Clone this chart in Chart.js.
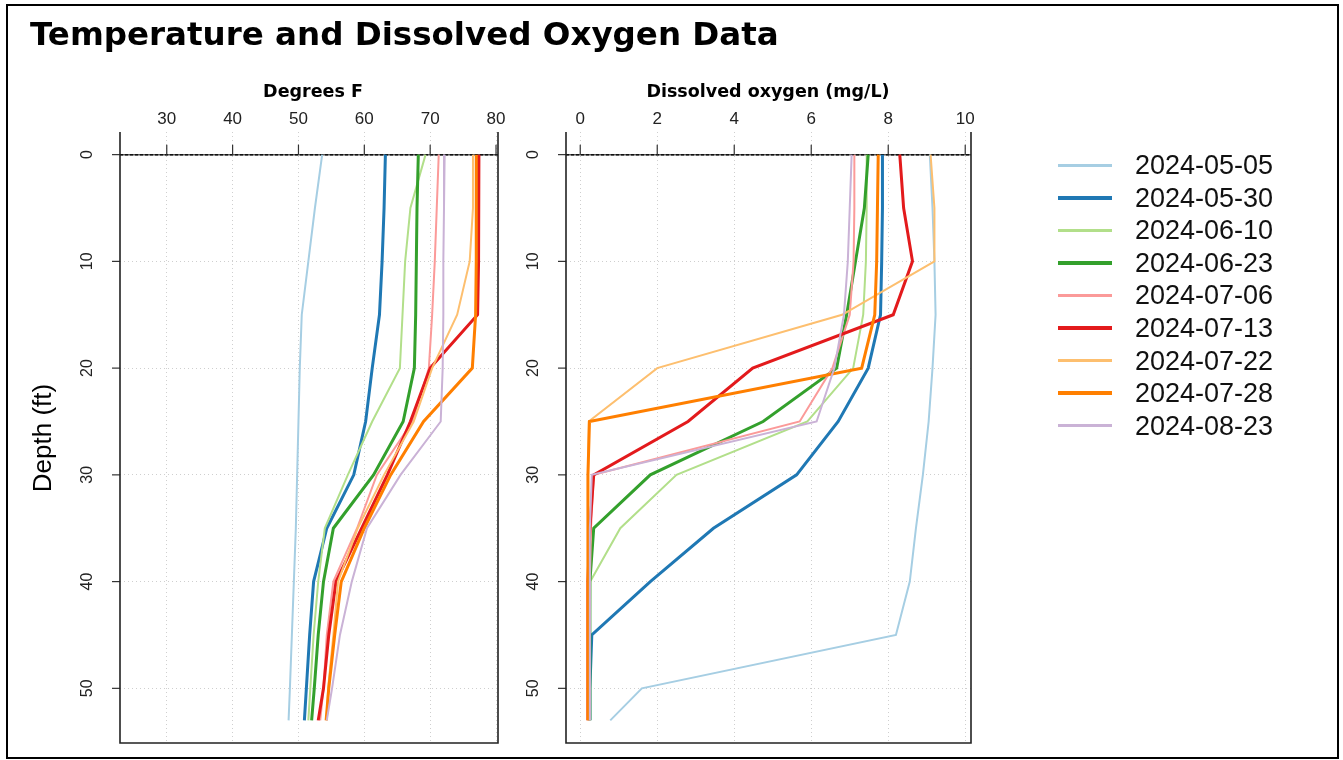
<!DOCTYPE html>
<html>
<head>
<meta charset="utf-8">
<style>
  body { margin:0; background:#fff; }
  #wrap { position:relative; width:1343px; height:760px; overflow:hidden; background:#fff; }
  #frame { position:absolute; left:6px; top:4px; width:1333px; height:755px; box-sizing:border-box; border:2px solid #000; }
  canvas { position:absolute; left:0; top:0; }
  .t { position:absolute; white-space:nowrap; color:#000; line-height:1; }
  #title { left:30px; top:15px; font:bold 32.5px "DejaVu Sans"; }
  .ptitle { top:81px; font:bold 17.5px "DejaVu Sans"; transform:translateX(-50%); }
  #ylab { left:42px; top:438px; font:26px "Liberation Sans"; transform:translate(-50%,-50%) rotate(-90deg); }
  .row { position:absolute; left:1058px; height:30px; width:260px; }
  .row .ln { position:absolute; left:0; width:54px; }
  .row .lb { position:absolute; left:77px; top:0; font:27px "Liberation Sans"; line-height:30px; color:#111; }
</style>
</head>
<body>
<div id="wrap">
  <canvas id="tempChart" width="1343" height="760"></canvas>
  <canvas id="doChart" width="1343" height="760"></canvas>
  <div id="frame"></div>
  <div class="t" id="title">Temperature and Dissolved Oxygen Data</div>
  <div class="t ptitle" style="left:313px;">Degrees F</div>
  <div class="t ptitle" style="left:768px;">Dissolved oxygen (mg/L)</div>
  <div class="t" id="ylab">Depth (ft)</div>
  <div id="legend"></div>
</div>

<script src="https://cdn.jsdelivr.net/npm/chart.js"></script>
<script>
  // sampling depths (ft)
  const depths = [0, 5, 10, 15, 20, 25, 30, 35, 40, 45, 50, 53];
  const dates = ['2024-05-05','2024-05-30','2024-06-10','2024-06-23','2024-07-06',
                 '2024-07-13','2024-07-22','2024-07-28','2024-08-23'];
  const colors = ['#A6CEE3','#1F78B4','#B2DF8A','#33A02C','#FB9A99',
                  '#E31A1C','#FDBF6F','#FF7F00','#CAB2D6'];
  const widths = [2, 3, 2, 3, 2, 3, 2, 3, 2];

  // temperature, degrees F
  const temp0505 = [53.6, 52.5, 51.5, 50.5, 50.2, 50.0, 49.8, 49.6, 49.3, 49.0, 48.7, 48.5];
  const temp0530 = [63.2, 63.0, 62.7, 62.3, 61.2, 60.2, 58.4, 54.3, 52.3, 51.7, 51.2, 50.9];
  const temp0610 = [69.3, 67.0, 66.2, 65.8, 65.4, 61.2, 57.5, 54.0, 53.0, 52.3, 51.8, 51.5];
  const temp0623 = [68.2, 68.0, 67.9, 67.8, 67.6, 65.9, 61.4, 55.3, 53.8, 53.0, 52.4, 52.0];
  const temp0706 = [71.3, 71.0, 70.7, 70.3, 69.8, 67.3, 61.9, 58.9, 55.3, 54.3, 53.8, 53.3];
  const temp0713 = [77.4, 77.4, 77.3, 77.2, 70.0, 67.0, 63.5, 59.6, 55.7, 54.6, 53.8, 53.0];
  const temp0722 = [76.5, 76.5, 76.0, 74.1, 70.3, 67.5, 63.0, 59.0, 56.0, 55.3, 54.5, 54.3];
  const temp0728 = [77.0, 77.0, 77.0, 76.9, 76.4, 69.0, 64.0, 60.0, 56.5, 55.5, 54.6, 54.2];
  const temp0823 = [72.2, 72.1, 72.0, 72.0, 71.9, 71.6, 65.5, 60.4, 58.1, 56.3, 55.1, 54.3];

  // dissolved oxygen, mg/L
  const do0505 = [9.08, 9.15, 9.20, 9.23, 9.15, 9.05, 8.90, 8.72, 8.56, 8.20, 1.60, 0.78];
  const do0530 = [7.85, 7.85, 7.83, 7.80, 7.48, 6.70, 5.62, 3.46, 1.82, 0.30, 0.25, 0.25];
  const do0610 = [7.44, 7.44, 7.42, 7.35, 7.09, 5.90, 2.50, 1.04, 0.26, 0.25, 0.25, 0.25];
  const do0623 = [7.48, 7.38, 7.15, 6.92, 6.66, 4.75, 1.82, 0.35, 0.25, 0.25, 0.25, 0.25];
  const do0706 = [7.12, 7.12, 7.10, 7.00, 6.55, 5.70, 0.35, 0.28, 0.25, 0.25, 0.25, 0.25];
  const do0713 = [8.30, 8.40, 8.63, 8.13, 4.48, 2.80, 0.35, 0.25, 0.20, 0.20, 0.20, 0.20];
  const do0722 = [9.10, 9.20, 9.20, 6.80, 2.00, 0.22, 0.20, 0.20, 0.20, 0.20, 0.20, 0.20];
  const do0728 = [7.74, 7.72, 7.70, 7.65, 7.31, 0.24, 0.20, 0.20, 0.20, 0.20, 0.20, 0.20];
  const do0823 = [7.05, 7.00, 6.95, 6.85, 6.60, 6.14, 0.30, 0.25, 0.25, 0.25, 0.25, 0.25];

  const tempSeries = [temp0505, temp0530, temp0610, temp0623, temp0706, temp0713, temp0722, temp0728, temp0823];
  const doSeries = [do0505, do0530, do0610, do0623, do0706, do0713, do0722, do0728, do0823];

  const tempTicks = [30, 40, 50, 60, 70, 80];
  const doTicks = [0, 2, 4, 6, 8, 10];
  const depthTicks = [0, 10, 20, 30, 40, 50];

  // axis line at depth 0 with ticks up, rotated depth labels, box on 3 sides
  const panelDecor = {
    id: 'panelDecor',
    beforeDatasetsDraw(chart) {
      const {ctx, chartArea: a, scales: {x, y}} = chart;
      const y0 = y.getPixelForValue(0);
      ctx.save();
      ctx.strokeStyle = '#555';
      ctx.lineWidth = 1.5;
      ctx.beginPath();
      ctx.moveTo(a.left, y0); ctx.lineTo(a.right, y0);
      ctx.stroke();
      ctx.strokeStyle = '#111';
      ctx.setLineDash([3, 2]);
      ctx.stroke();
      ctx.setLineDash([]);
      ctx.strokeStyle = '#333';
      ctx.lineWidth = 1.2;
      x.ticks.forEach(t => {
        const px = x.getPixelForValue(t.value);
        ctx.beginPath(); ctx.moveTo(px, y0 - 10); ctx.lineTo(px, y0); ctx.stroke();
      });
      ctx.fillStyle = '#222';
      ctx.font = '16px "Liberation Sans"';
      ctx.textAlign = 'center';
      ctx.textBaseline = 'middle';
      y.ticks.forEach(t => {
        const py = y.getPixelForValue(t.value);
        ctx.beginPath(); ctx.moveTo(a.left - 8, py); ctx.lineTo(a.left, py); ctx.stroke();
        ctx.save();
        ctx.translate(a.left - 32, py);
        ctx.rotate(-Math.PI / 2);
        ctx.fillText(String(t.value), 0, 0);
        ctx.restore();
      });
      ctx.restore();
    },
    afterDatasetsDraw(chart) {
      const {ctx, chartArea: a} = chart;
      ctx.save();
      ctx.strokeStyle = '#222';
      ctx.lineWidth = 1.6;
      ctx.beginPath();
      ctx.moveTo(a.left, a.top); ctx.lineTo(a.left, a.bottom);
      ctx.lineTo(a.right, a.bottom); ctx.lineTo(a.right, a.top);
      ctx.stroke();
      ctx.restore();
    }
  };

  function makePanel(id, series, xMin, xMax, xTicks, padLeft, padRight) {
    const datasets = series.map((vals, i) => ({
      label: dates[i],
      data: vals.map((v, k) => ({x: v, y: depths[k]})),
      borderColor: colors[i],
      backgroundColor: colors[i],
      borderWidth: widths[i],
      pointRadius: 0,
      showLine: true,
      tension: 0,
      order: series.length - i
    }));
    return new Chart(document.getElementById(id), {
      type: 'scatter',
      data: { datasets: datasets },
      options: {
        responsive: false,
        animation: false,
        events: [],
        layout: { padding: { left: padLeft, right: padRight, top: 0, bottom: 17 } },
        plugins: { legend: { display: false }, tooltip: { enabled: false } },
        scales: {
          x: {
            type: 'linear',
            position: 'top',
            min: xMin,
            max: xMax,
            afterBuildTicks: s => { s.ticks = xTicks.map(v => ({value: v})); },
            afterFit: s => { s.height = 132; },
            grid: { color: '#cfcfcf', lineWidth: 1, drawTicks: false },
            border: { display: false, dash: [1, 3] },
            ticks: { padding: 2, color: '#222', font: { family: 'Liberation Sans', size: 17 } }
          },
          y: {
            type: 'linear',
            reverse: true,
            min: -2.12,
            max: 55.12,
            afterBuildTicks: s => { s.ticks = depthTicks.map(v => ({value: v})); },
            afterFit: s => { s.width = 120; },
            grid: { color: '#cfcfcf', lineWidth: 1, drawTicks: false },
            border: { display: false, dash: [1, 3] },
            ticks: { display: false }
          }
        }
      },
      plugins: [panelDecor]
    });
  }

  makePanel('tempChart', tempSeries, 22.9, 80.3, tempTicks, 0, 845);
  makePanel('doChart', doSeries, -0.37, 10.15, doTicks, 446, 372);

  // legend
  const legend = document.getElementById('legend');
  dates.forEach((d, i) => {
    const yc = 165 + 32.6 * i;
    const lw = widths[i] + 1;
    const row = document.createElement('div');
    row.className = 'row';
    row.style.top = (yc - 15) + 'px';
    row.innerHTML = '<div class="ln" style="top:' + (15 - lw / 2) + 'px;height:' + lw +
      'px;background:' + colors[i] + '"></div><span class="lb">' + d + '</span>';
    legend.appendChild(row);
  });
</script>
</body>
</html>
